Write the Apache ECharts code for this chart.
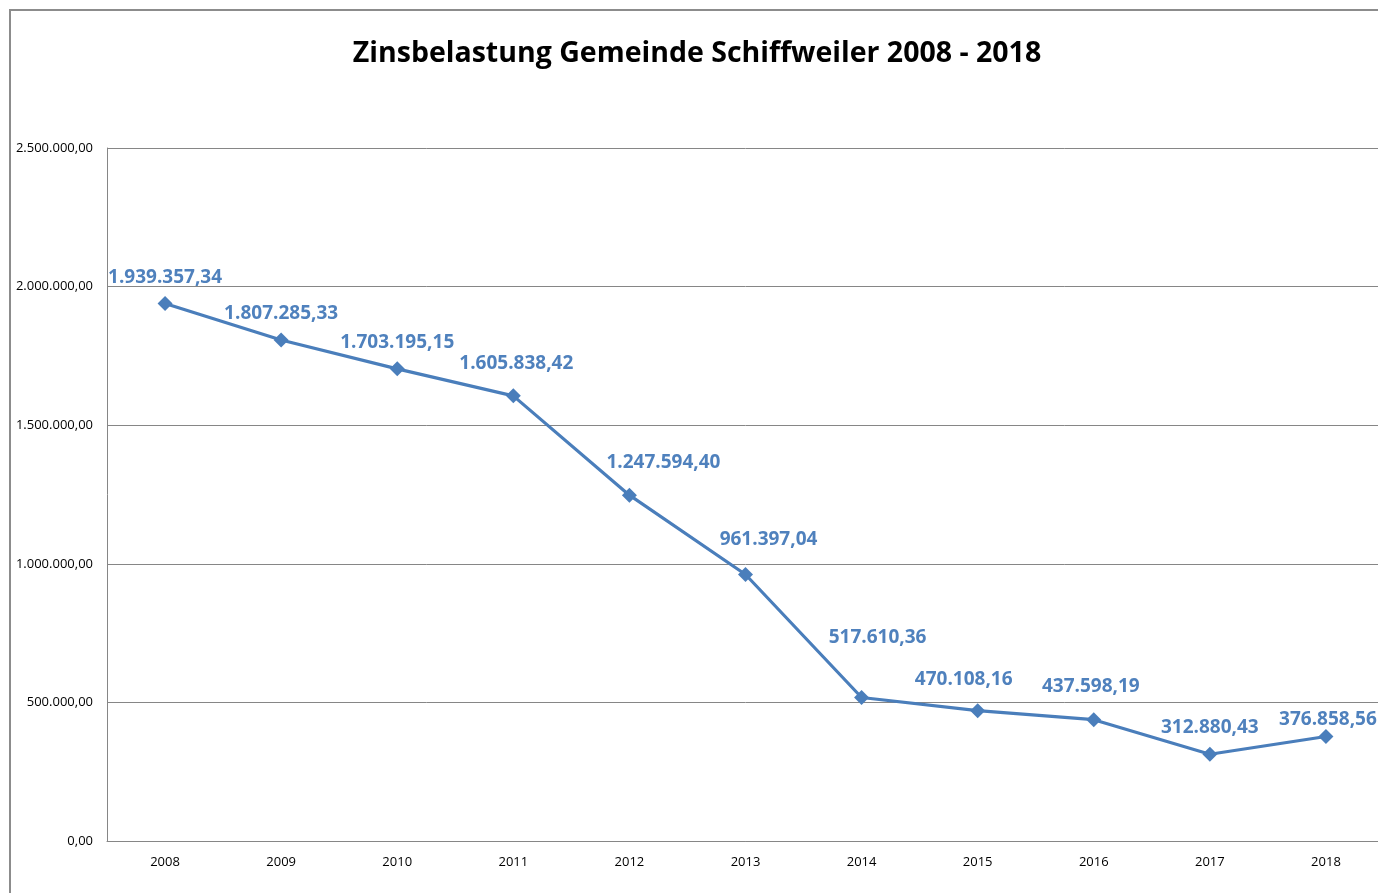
<!DOCTYPE html>
<html>
<head>
<meta charset="utf-8">
<script src="https://cdn.jsdelivr.net/npm/echarts@6/dist/echarts.min.js"></script>
<style>
  html, body { margin: 0; padding: 0; background: #fff; overflow: hidden; }
  #main { width: 1384px; height: 893px; }
</style>
</head>
<body>
<div id="main"></div>
<script>
var years = ['2008', '2009', '2010', '2011', '2012', '2013', '2014', '2015', '2016', '2017', '2018'];
var zinsen = [1939357.34, 1807285.33, 1703195.15, 1605838.42, 1247594.40, 961397.04,
    517610.36, 470108.16, 437598.19, 312880.43, 376858.56];

// Verschiebung der Beschriftungen (px), wie im Original von Hand verschoben
var labelShift = [[0, 27], [0, 27], [0, 27], [3, 33], [34, 34], [23, 36],
    [16, 61], [-14, 32], [-3, 34], [0, 28], [2, 18]];

var FONT = '"Open Sans", "Noto Sans", sans-serif';

// deutsches Zahlenformat: 1.234.567,89
function deFormat(v) {
    var parts = Number(v).toFixed(2).split('.');
    var ganz = parts[0].replace(/\B(?=(\d{3})+(?!\d))/g, '.');
    return ganz + ',' + parts[1];
}

var seriesData = zinsen.map(function (v, i) {
    return {
        value: v,
        label: {offset: [labelShift[i][0], -(labelShift[i][1] - 18)]}
    };
});

var myChart = echarts.init(document.getElementById('main'));

var option = {
    backgroundColor: '#fff',
    animation: false,
    title: {
        text: 'Zinsbelastung Gemeinde Schiffweiler 2008 - 2018',
        left: 692,
        textAlign: 'center',
        top: 34,
        textStyle: {
            fontFamily: FONT,
            fontWeight: 'bold',
            fontSize: 28.5,
            color: '#000'
        }
    },
    graphic: [{
        type: 'rect',
        shape: {x: 10, y: 10, width: 1400, height: 900},
        style: {fill: 'none', stroke: '#8c8c8c', lineWidth: 2},
        silent: true
    }],
    grid: {
        left: 107,
        right: 0,
        top: 148,
        bottom: 52
    },
    xAxis: {
        type: 'category',
        data: years,
        boundaryGap: true,
        axisLine: {lineStyle: {color: '#868686', width: 1}},
        axisTick: {show: false},
        axisLabel: {
            fontFamily: FONT,
            fontSize: 13,
            color: '#000',
            margin: 15
        }
    },
    yAxis: {
        type: 'value',
        min: 0,
        max: 2500000,
        interval: 500000,
        axisLine: {show: true, lineStyle: {color: '#868686', width: 1}},
        axisTick: {show: false},
        splitLine: {lineStyle: {color: '#868686', width: 1}},
        axisLabel: {
            fontFamily: FONT,
            fontSize: 13,
            color: '#000',
            margin: 14,
            formatter: deFormat
        }
    },
    series: [{
        type: 'line',
        data: seriesData,
        symbol: 'diamond',
        symbolSize: 15,
        lineStyle: {color: '#4A7EBB', width: 3.2},
        itemStyle: {color: '#4A7EBB'},
        label: {
            show: true,
            position: 'top',
            distance: 0,
            fontFamily: FONT,
            fontWeight: 'bold',
            fontSize: 19,
            color: '#4F81BD',
            formatter: function (p) { return deFormat(p.value); }
        }
    }]
};

myChart.setOption(option);
</script>
</body>
</html>
